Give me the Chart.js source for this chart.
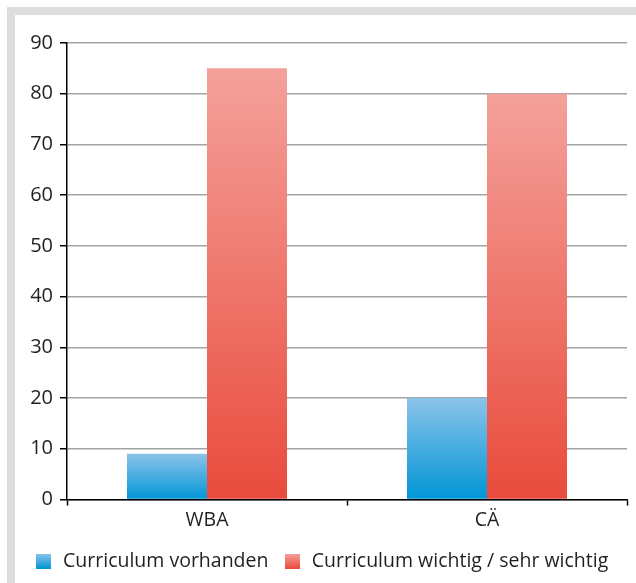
<!DOCTYPE html>
<html>
<head>
<meta charset="utf-8">
<script src="https://cdn.jsdelivr.net/npm/chart.js@4.4.1/dist/chart.umd.min.js"></script>
<style>
  html, body { margin: 0; padding: 0; background: #ffffff; }
  #frame {
    position: absolute; left: 7px; top: 7px;
    width: 621px; height: 568px;
    border-top: 8px solid #dcdddd; border-left: 8px solid #dcdddd;
    background: #ffffff;
  }
  #chart { display: block; }
</style>
</head>
<body>
<div id="frame"><canvas id="chart" width="621" height="568"></canvas></div>
<script>
// Groups along the x axis
const categories = ['WBA', 'CÄ'];
// Share per group, in percent
const vorhanden = [9, 20];
const wichtig = [85, 80];
// Series names
const seriesNames = ['Curriculum vorhanden', 'Curriculum wichtig / sehr wichtig'];
// y axis range and step
const yTicks = [0, 10, 20, 30, 40, 50, 60, 70, 80, 90];

const FONT = '"Open Sans", "Noto Sans", sans-serif';
const TEXT = '#231f20';

// Colour ramps: top of bar -> base of bar
const blueRamp = ['#8cc3ea', '#0096d6'];
const redRamp = ['#f4a19b', '#e94b3c'];

// Each bar gets its own vertical gradient from its top down to zero.
function barGradient(ramp) {
  return function (context) {
    const chart = context.chart;
    const y = chart.scales && chart.scales.y;
    if (!y || context.raw === undefined || context.type !== 'data') return ramp[1];
    const top = y.getPixelForValue(context.raw);
    const base = y.getPixelForValue(0);
    if (!isFinite(top) || !isFinite(base) || base - top < 1) return ramp[1];
    const g = chart.ctx.createLinearGradient(0, top, 0, base);
    g.addColorStop(0, ramp[0]);
    g.addColorStop(1, ramp[1]);
    return g;
  };
}

// Small square swatch with the same ramp, used as the legend marker
function swatch(ramp) {
  const c = document.createElement('canvas');
  c.width = 15; c.height = 15;
  const x = c.getContext('2d');
  const g = x.createLinearGradient(0, 0, 0, 15);
  g.addColorStop(0, ramp[0]);
  g.addColorStop(1, ramp[1]);
  x.fillStyle = g;
  x.fillRect(0, 0, 15, 15);
  return c;
}
const swatches = [swatch(blueRamp), swatch(redRamp)];

new Chart(document.getElementById('chart'), {
  type: 'bar',
  data: {
    labels: categories,
    datasets: [
      { label: seriesNames[0], data: vorhanden, backgroundColor: barGradient(blueRamp) },
      { label: seriesNames[1], data: wichtig, backgroundColor: barGradient(redRamp) }
    ]
  },
  options: {
    responsive: false,
    animation: false,
    layout: { padding: { top: 28, right: 9, left: 0, bottom: 2 } },
    datasets: { bar: { categoryPercentage: 160 / 280, barPercentage: 1, borderWidth: 0 } },
    plugins: {
      tooltip: { enabled: false },
      legend: {
        position: 'bottom',
        labels: {
          usePointStyle: true,
          boxHeight: 15,
          padding: 14,
          color: TEXT,
          font: { family: FONT, size: 19.5 },
          generateLabels(chart) {
            return chart.data.datasets.map((ds, i) => ({
              text: ds.label,
              pointStyle: swatches[i],
              fillStyle: i === 0 ? blueRamp[1] : redRamp[1],
              strokeStyle: 'transparent',
              lineWidth: 0,
              hidden: false,
              datasetIndex: i,
              fontColor: TEXT
            }));
          }
        }
      }
    },
    scales: {
      x: {
        afterFit(scale) { scale.height = 38; },
        border: { display: true, color: '#000000', width: 1.5 },
        grid: { offset: true, drawOnChartArea: false, drawTicks: true, tickLength: 6, tickColor: '#000000', tickWidth: 1.5 },
        ticks: { color: TEXT, font: { family: FONT, size: 19.5 }, padding: 3 }
      },
      y: {
        min: yTicks[0],
        max: yTicks[yTicks.length - 1],
        afterFit(scale) { scale.width = 52; },
        afterBuildTicks(scale) { scale.ticks = yTicks.map(v => ({ value: v })); },
        border: { display: true, color: '#000000', width: 1.5 },
        grid: { color: '#a3a3a3', lineWidth: 1.5, tickLength: 7, tickColor: '#000000', tickWidth: 1.5 },
        ticks: { color: TEXT, font: { family: FONT, size: 20 }, padding: 7 }
      }
    }
  }
});
</script>
</body>
</html>
